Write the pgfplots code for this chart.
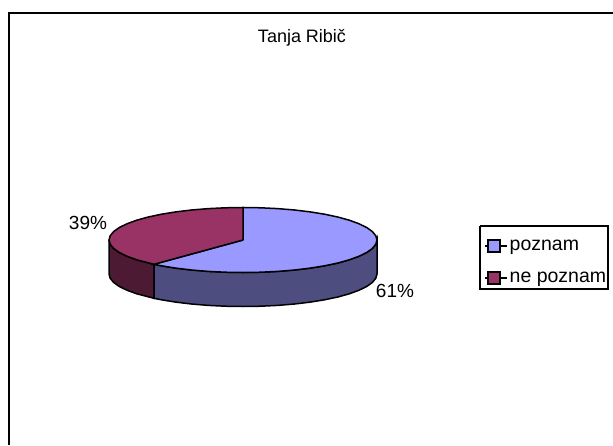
\documentclass[border=0pt]{standalone}
\usepackage{pgfplots}
\pgfplotsset{compat=1.18}
\usepackage{pgfplotstable}
\usepackage{fontspec}
\setmainfont{Liberation Sans}

\definecolor{poznam}{HTML}{9999FF}
\definecolor{poznamside}{HTML}{4D4D80}
\definecolor{nepoznam}{HTML}{993366}
\definecolor{nepoznamside}{HTML}{4D1A33}

% outlines, in pixels of the reference
\pgfplotstableread{
x y
243 240
243 207.5
260.5 207.78
277.7 208.61
294.3 209.97
310 211.85
324.6 214.21
337.8 217.02
349.3 220.21
359 223.75
366.8 227.56
372.4 231.59
375.8 235.76
377 240
375.8 244.24
372.4 248.41
366.8 252.44
359 256.25
349.3 259.79
337.8 263.02
324.6 265.79
310 268.15
294.3 270.03
277.7 271.39
260.5 272.22
243 272.5
225.5 272.22
208.3 271.39
191.7 270.03
176 268.15
161.4 265.79
154 264.3
243 240
}\toppoznam

\pgfplotstableread{
x y
243 240
154 264.3
136.7 259.79
127 256.25
119.2 252.44
113.6 248.41
110.2 244.24
109 240
110.2 235.76
113.6 231.59
119.2 227.56
127 223.75
136.7 220.21
148.2 217.02
161.4 214.21
176 211.85
191.7 209.97
208.3 208.61
225.5 207.78
243 207.5
243 240
}\topnepoznam

\pgfplotstableread{
x y
154 264.3
161.4 265.79
176 268.15
191.7 270.03
208.3 271.39
225.5 272.22
243 272.5
260.5 272.22
277.7 271.39
294.3 270.03
310 268.15
324.6 265.79
337.8 263.02
349.3 259.79
359 256.25
366.8 252.44
372.4 248.41
375.8 244.24
377 240
377 274
375.8 278.24
372.4 282.41
366.8 286.44
359 290.25
349.3 293.79
337.8 297.02
324.6 299.79
310 302.15
294.3 304.03
277.7 305.39
260.5 306.22
243 306.5
225.5 306.22
208.3 305.39
191.7 304.03
176 302.15
161.4 299.79
154 298.3
154 264.3
}\sidepoznam

\pgfplotstableread{
x y
109 240
110.2 244.24
113.6 248.41
119.2 252.44
127 256.25
136.7 259.79
154 264.3
154 298.3
136.7 293.79
127 290.25
119.2 286.44
113.6 282.41
110.2 278.24
109 274
109 240
}\sidenepoznam

\begin{document}
\begin{tikzpicture}
\useasboundingbox (0,0) rectangle (613pt,445pt);
\begin{axis}[
    scale only axis,
    width=613pt,
    height=445pt,
    xmin=0, xmax=613,
    ymin=0, ymax=445,
    y dir=reverse,
    hide axis,
    clip=false,
    legend cell align=left,
    legend image code/.code={
        \path (0pt,0pt) -- (22pt,0pt);
        \draw[#1, line width=1.6pt] (3pt,-6pt) rectangle (15pt,6pt);
    },
    legend style={
        at={(axis cs:480,234)},
        anchor=north west,
        draw=none,
        fill=none,
        font=\fontsize{19.5}{21}\selectfont,
        inner xsep=4pt,
        inner ysep=4pt,
        row sep=16pt,
        legend columns=1,
    },
]
% chart frame
\addplot[forget plot, black, line width=2pt] coordinates {
    (9,445) (9,13) (613,13)
};
% legend box
\addplot[forget plot, black, line width=1.1pt] coordinates {
    (480,226) (608,226) (608,289) (480,289) (480,226)
};
\addplot[forget plot, fill=nepoznamside, draw=black, line width=1.5pt] table {\sidenepoznam};
\addplot[forget plot, fill=poznamside, draw=black, line width=1.5pt] table {\sidepoznam};
\addplot[fill=poznam, draw=black, line width=1.5pt] table {\toppoznam};
\addlegendentry{poznam}
\addplot[fill=nepoznam, draw=black, line width=1.5pt] table {\topnepoznam};
\addlegendentry{ne poznam}
\node[font=\fontsize{18}{20}\selectfont] at (axis cs:302,37.5) {Tanja Ribič};
\node[font=\fontsize{19}{21}\selectfont] at (axis cs:88,223) {39\%};
\node[font=\fontsize{19}{21}\selectfont] at (axis cs:395,291) {61\%};
\end{axis}
\end{tikzpicture}
\end{document}
